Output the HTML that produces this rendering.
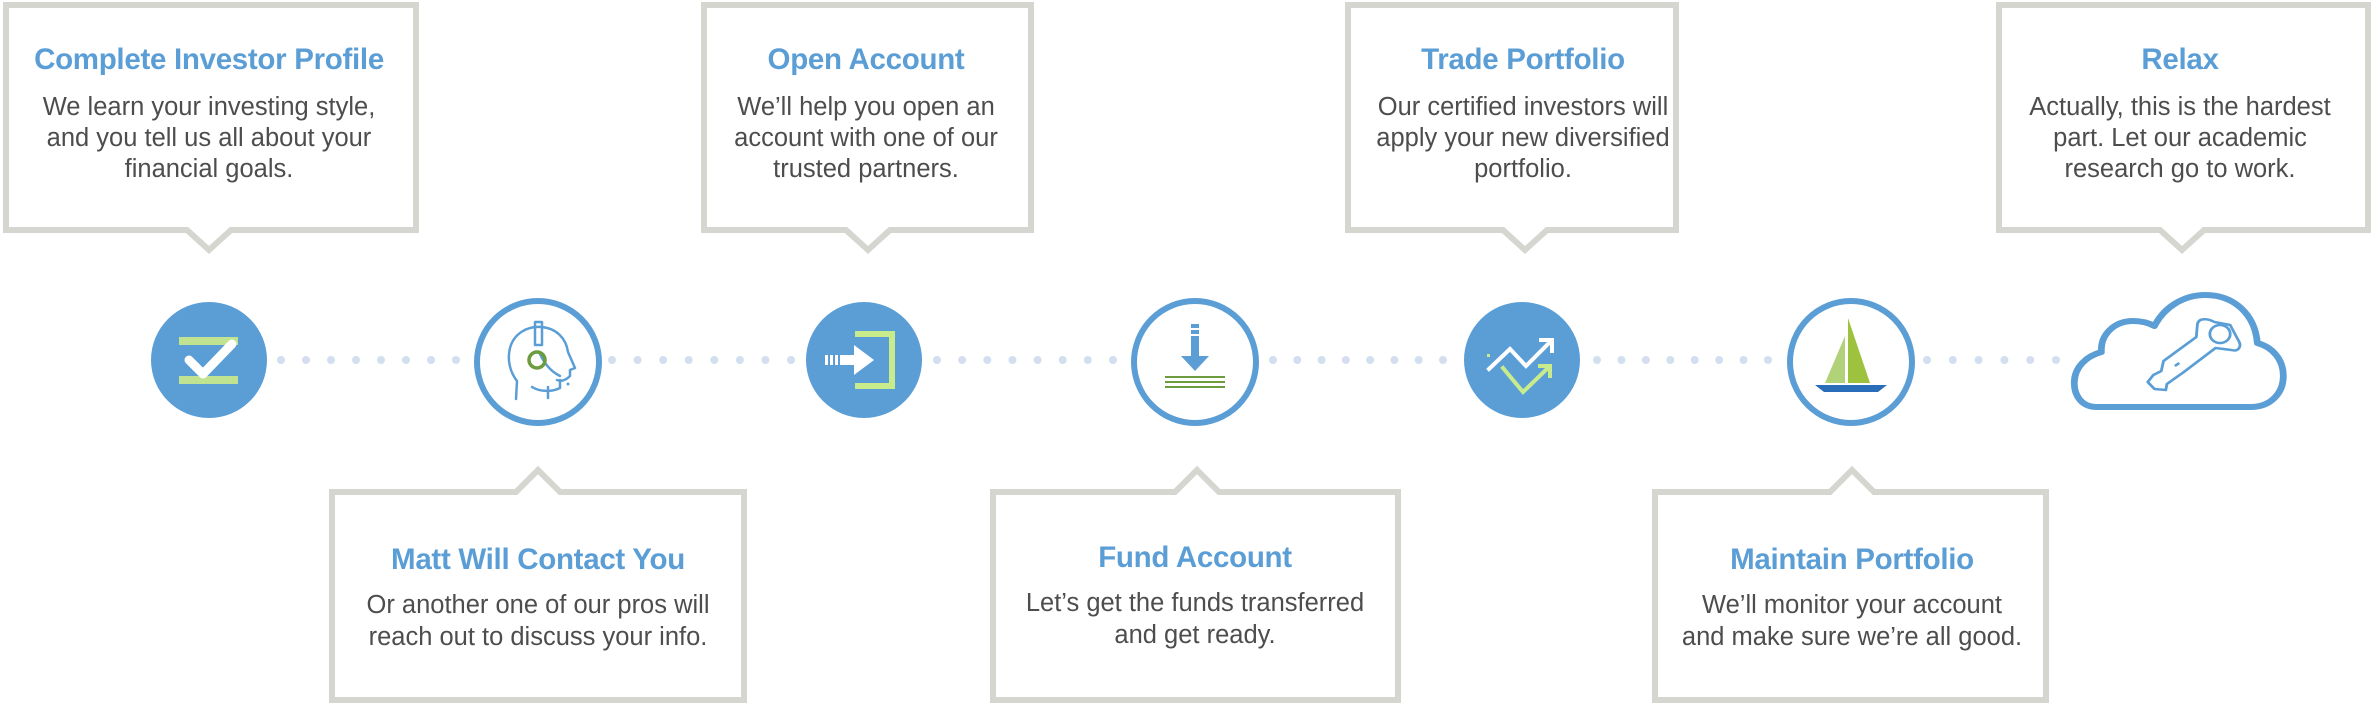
<!DOCTYPE html>
<html><head><meta charset="utf-8"><style>
html,body{margin:0;padding:0;background:#fff;}
svg{display:block;}
.t{font-family:"Liberation Sans",sans-serif;font-weight:bold;font-size:29.5px;fill:#5b9ed6;text-anchor:middle;letter-spacing:-0.3px;}
.b{font-family:"Liberation Sans",sans-serif;font-size:25.5px;fill:#4d4d4d;text-anchor:middle;}
.box{fill:#fff;stroke:#d6d6d0;stroke-width:6;}
.dot{fill:#d3dff0;}
</style></head><body>
<svg id="s" width="2375" height="705" viewBox="0 0 2375 705" xmlns="http://www.w3.org/2000/svg">
<path class="box" d="M6 5 H416 V230 H231 L209 250 L187 230 H6 Z"/>
<path class="box" d="M704 5 H1031 V230 H890 L868 250 L846 230 H704 Z"/>
<path class="box" d="M1348 5 H1676 V230 H1547 L1525 250 L1503 230 H1348 Z"/>
<path class="box" d="M1999 5 H2368 V230 H2204 L2182 250 L2160 230 H1999 Z"/>
<path class="box" d="M332 492 H516 L538 470 L560 492 H744 V700 H332 Z"/>
<path class="box" d="M993 492 H1175 L1197 470 L1219 492 H1398 V700 H993 Z"/>
<path class="box" d="M1655 492 H1830 L1852 470 L1874 492 H2046 V700 H1655 Z"/>

<text class="t" x="209" y="69">Complete Investor Profile</text>
<text class="b" x="209" y="115">We learn your investing style,</text>
<text class="b" x="209" y="146">and you tell us all about your</text>
<text class="b" x="209" y="177">financial goals.</text>

<text class="t" x="866" y="69">Open Account</text>
<text class="b" x="866" y="115">We’ll help you open an</text>
<text class="b" x="866" y="146">account with one of our</text>
<text class="b" x="866" y="177">trusted partners.</text>

<text class="t" x="1523" y="69">Trade Portfolio</text>
<text class="b" x="1523" y="115">Our certified investors will</text>
<text class="b" x="1523" y="146">apply your new diversified</text>
<text class="b" x="1523" y="177">portfolio.</text>

<text class="t" x="2180" y="69">Relax</text>
<text class="b" x="2180" y="115">Actually, this is the hardest</text>
<text class="b" x="2180" y="146">part. Let our academic</text>
<text class="b" x="2180" y="177">research go to work.</text>

<text class="t" x="538" y="569">Matt Will Contact You</text>
<text class="b" x="538" y="613">Or another one of our pros will</text>
<text class="b" x="538" y="645">reach out to discuss your info.</text>

<text class="t" x="1195" y="567">Fund Account</text>
<text class="b" x="1195" y="611">Let’s get the funds transferred</text>
<text class="b" x="1195" y="643">and get ready.</text>

<text class="t" x="1852" y="569">Maintain Portfolio</text>
<text class="b" x="1852" y="613">We’ll monitor your account</text>
<text class="b" x="1852" y="645">and make sure we’re all good.</text>

<g id="dots"></g>

<circle cx="209" cy="360" r="58" fill="#5b9ed6"/>
<rect x="179" y="337" width="59" height="8" fill="#bfe391"/>
<rect x="179" y="376" width="59" height="8" fill="#bfe391"/>
<polyline points="189,360 203,374 232,344" fill="none" stroke="#fff" stroke-width="9" stroke-linecap="round" stroke-linejoin="round"/>

<circle cx="538" cy="362" r="61" fill="#fff" stroke="#5b9ed6" stroke-width="6"/>
<g fill="none" stroke="#5b9ed6" stroke-width="2.5" stroke-linecap="round" stroke-linejoin="round">
<path d="M516 399 L517 381 C510 372 507 360 510 348 C514 333 528 326 541 327 C556 328 566 338 568 352 L575 368 L570 370 L570 376 C566 380 562 382 557 380"/>
<path d="M532 387 C540 392 552 392 560 388 L560 380"/>
<path d="M548 387 L548 398"/>
<rect x="535" y="322" width="7" height="23"/>
<path d="M540 354 C545 365 552 372 560 376"/>
</g>
<circle cx="568" cy="384" r="1.5" fill="#5b9ed6"/>
<circle cx="537" cy="360" r="8" fill="none" stroke="#6c9c3c" stroke-width="3.5"/>

<circle cx="864" cy="360" r="58" fill="#5b9ed6"/>
<path d="M855 334 H892 V386 H855" fill="none" stroke="#c8ec8c" stroke-width="6"/>
<rect x="825" y="355" width="3" height="10" fill="#fff"/>
<rect x="830" y="355" width="3" height="10" fill="#fff"/>
<rect x="835" y="355" width="3" height="10" fill="#fff"/>
<rect x="840" y="355" width="16" height="10" fill="#fff"/>
<polygon points="854,345 874,360 854,375" fill="#fff"/>

<circle cx="1195" cy="362" r="61" fill="#fff" stroke="#5b9ed6" stroke-width="6"/>
<rect x="1191" y="324" width="8" height="4" fill="#5b9ed6"/>
<rect x="1191" y="330" width="8" height="4" fill="#5b9ed6"/>
<rect x="1191" y="336" width="8" height="22" fill="#5b9ed6"/>
<polygon points="1181,356 1209,356 1195,371" fill="#5b9ed6"/>
<g stroke="#6c9c3c" stroke-width="2"><line x1="1165" y1="377" x2="1225" y2="377"/><line x1="1165" y1="382" x2="1225" y2="382"/><line x1="1165" y1="387" x2="1225" y2="387"/></g>

<circle cx="1522" cy="360" r="58" fill="#5b9ed6"/>
<g fill="none" stroke-width="4" stroke-linecap="square">
<polyline points="1503,368 1523,392 1549,367" stroke="#c8ec8c"/>
<polyline points="1540,366 1550,366 1550,376" stroke="#c8ec8c"/>
<polyline points="1489,369 1510,349 1526,366 1551,341" stroke="#fff"/>
<polyline points="1541,340 1552,340 1552,351" stroke="#fff"/>
</g>
<rect x="1487" y="354" width="3" height="3" fill="#c8ec8c"/>

<circle cx="1851" cy="362" r="61" fill="#fff" stroke="#5b9ed6" stroke-width="6"/>
<polygon points="1845,336 1845,383 1825,383" fill="#b2d27a"/>
<polygon points="1848,318 1848,383 1870,383" fill="#9dc33e"/>
<polygon points="1815,385 1887,385 1878,392 1824,392" fill="#2a6db8"/>

<g transform="translate(2072,0) scale(1.13,1) translate(-2072,0)">
<path d="M2094 407 C2080 407 2074 395 2074 383 C2074 367 2085 356 2098 352 C2097 334 2110 321 2126 321 C2134 321 2140 323 2145 326 C2153 308 2170 295 2190 295 C2216 295 2234 315 2236 343 C2249 347 2259 359 2259 376 C2259 393 2248 407 2230 407 Z" fill="#fff" stroke="#5b9ed6" stroke-width="6" stroke-linejoin="round"/>
<g fill="none" stroke="#5b9ed6" stroke-width="2.5" stroke-linejoin="round">
<path d="M2156 384 L2155 390 L2145 389 L2139 382 L2144 375 L2151 371 L2153 361 L2182 337 L2183 324 C2184 318 2192 318 2198 322 L2212 325 L2220 342 C2222 347 2219 352 2213 350 L2199 348 L2171 372 Z"/>
<circle cx="2203" cy="334" r="9"/>
<path d="M2163 366 L2167 363"/>
</g>
</g>
</svg>
<script>
(function(){
var g=document.getElementById('dots');
var gaps=[[281,456,8],[612,791,8],[937,1113,8],[1273,1443,8],[1597,1768,8],[1927,2056,6]];
var ns='http://www.w3.org/2000/svg';
gaps.forEach(function(a){
 for(var i=0;i<a[2];i++){
  var c=document.createElementNS(ns,'circle');
  c.setAttribute('cx',a[0]+(a[1]-a[0])*i/(a[2]-1));
  c.setAttribute('cy',360);c.setAttribute('r',4);c.setAttribute('class','dot');
  g.appendChild(c);
 }
});
})();
</script>
</body></html>
